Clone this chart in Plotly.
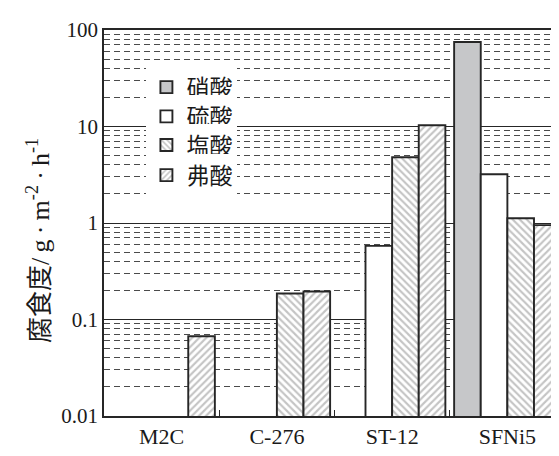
import plotly.graph_objects as go

categories = ["M2C", "C-276", "ST-12", "SFNi5"]
series_names = ["硝酸", "硫酸", "塩酸", "弗酸"]
nitric = [None, None, None, 75]
sulfuric = [None, None, 0.58, 3.2]
hydrochloric = [None, 0.186, 4.8, 1.12]
hydrofluoric = [0.067, 0.195, 10.3, 0.95]
y_tickvals = [0.01, 0.1, 1, 10, 100]
y_ticktext = ["0.01", "0.1", "1", "10", "100"]
y_title = "腐食度/\u2009g\u2009·\u2009m<sup>-2</sup>\u2009·\u2009h<sup>-1</sup>"

FONT = "Liberation Serif, Times New Roman, Noto Sans CJK JP, serif"
LINE = "#262626"

styles = [
    dict(color="#c6c7c9", pattern=None),
    dict(color="white", pattern=None),
    dict(color="white", pattern=dict(shape="\\", fgcolor="#8a8a8a", bgcolor="white", size=5, solidity=0.42)),
    dict(color="white", pattern=dict(shape="/", fgcolor="#8a8a8a", bgcolor="white", size=5, solidity=0.42)),
]
legend_ids = ["legend", "legend2", "legend3", "legend4"]
legend_rows = [0.852, 0.776, 0.702, 0.624]

fig = go.Figure()
for name, vals, st, lid in zip(series_names, [nitric, sulfuric, hydrochloric, hydrofluoric], styles, legend_ids):
    marker = dict(color=st["color"], line=dict(color=LINE, width=1.9))
    if st["pattern"]:
        marker["pattern"] = st["pattern"]
    fig.add_trace(go.Bar(name=name, x=categories, y=vals, marker=marker, legend=lid))

legend_font = dict(family=FONT, size=23, color="#1a1a1a")
layout_legends = {}
for lid, ly in zip(legend_ids, legend_rows):
    layout_legends[lid] = dict(
        x=0.092, y=ly, xanchor="left", yanchor="middle",
        bgcolor="white", borderwidth=0, font=legend_font,
        itemwidth=30, tracegroupgap=0,
    )

fig.update_layout(
    width=559, height=456,
    margin=dict(l=96, r=2, t=22, b=48),
    paper_bgcolor="white", plot_bgcolor="white",
    barmode="group", bargap=0.076, bargroupgap=0,
    font=dict(family=FONT, size=21, color="#1a1a1a"),
    showlegend=True,
    **layout_legends,
)
fig.add_annotation(
    text=y_title, xref="paper", yref="paper", x=-0.142, y=0.455,
    xanchor="center", yanchor="middle", textangle=-90, showarrow=False,
    font=dict(family=FONT, size=26, color="#1a1a1a"),
)
fig.update_xaxes(
    type="category", range=[-0.5, 3.5], automargin=False,
    showline=True, linecolor=LINE, linewidth=1.5, mirror=True,
    ticks="inside", tickson="boundaries", ticklen=6, tickcolor=LINE,
    showgrid=False,
    tickfont=dict(family=FONT, size=22),
)
fig.update_yaxes(
    type="log", range=[-2, 2], automargin=False,
    tickvals=y_tickvals, ticktext=y_ticktext,
    showline=True, linecolor=LINE, linewidth=1.5, mirror=True,
    ticks="",
    showgrid=True, gridcolor=LINE, gridwidth=1,
    minor=dict(dtick="D1", showgrid=True, gridcolor="#4a4a4a", gridwidth=1, griddash="6px,4px", ticks=""),
    tickfont=dict(family=FONT, size=21),
)

fig.write_html("out.html")
